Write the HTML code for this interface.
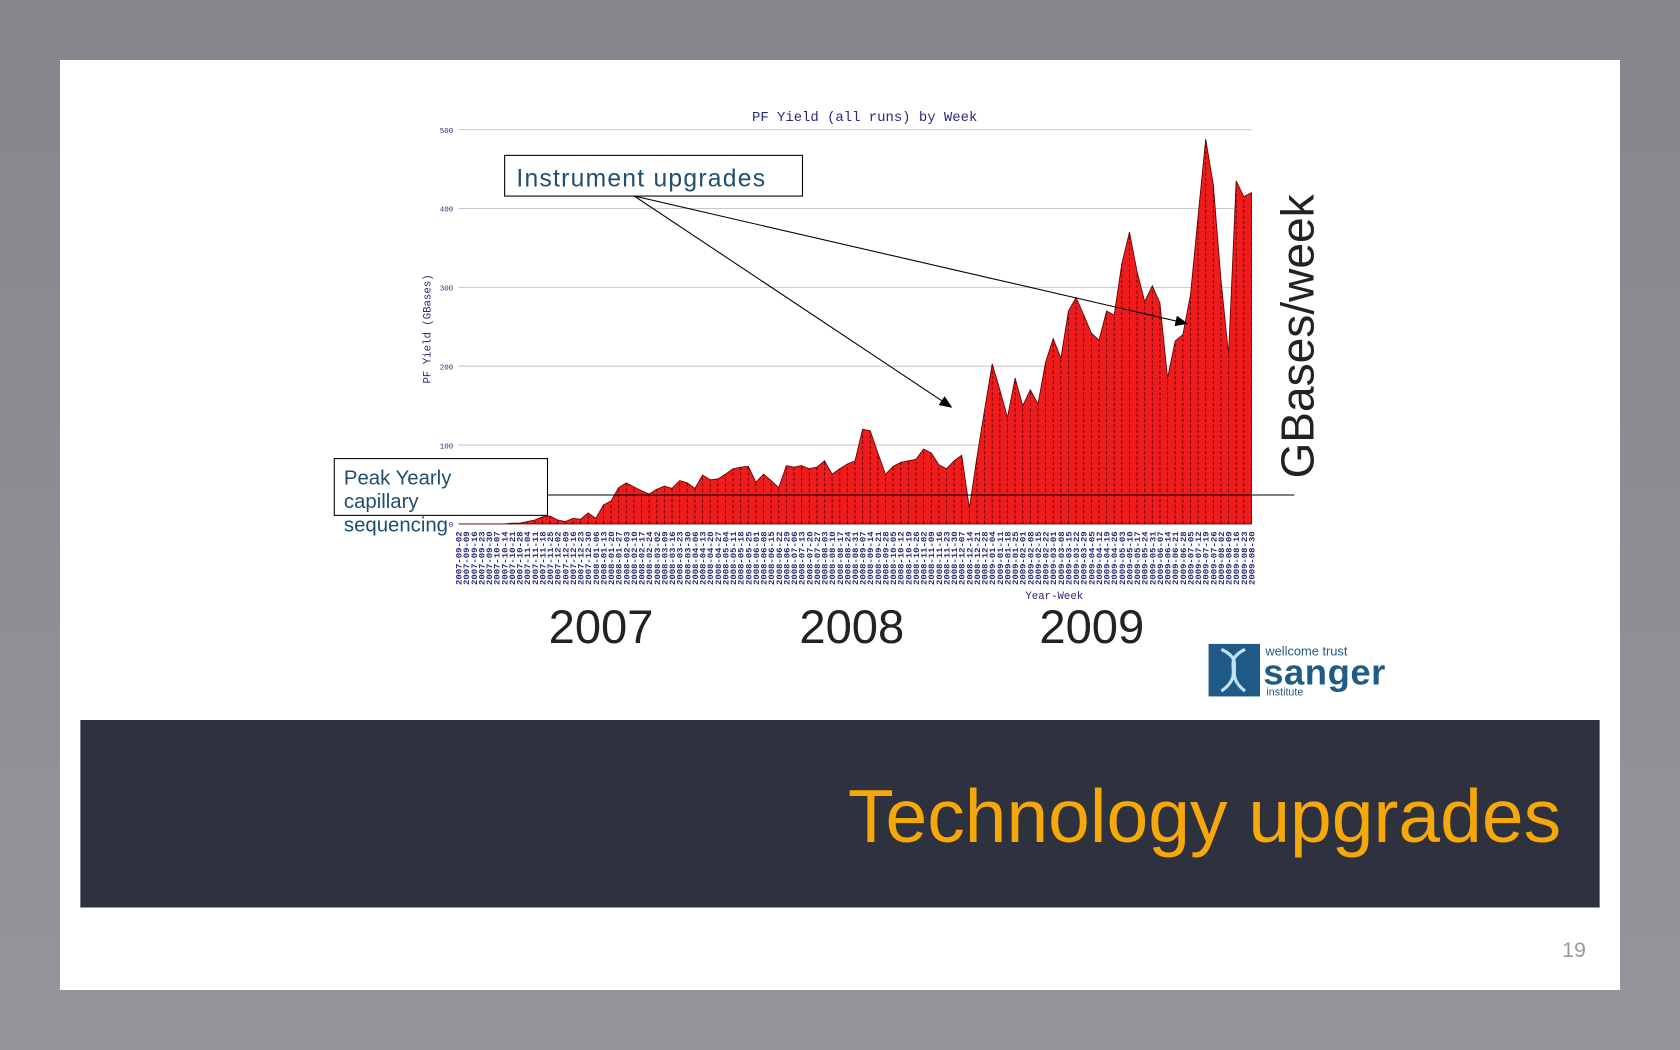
<!DOCTYPE html>
<html><head><meta charset="utf-8">
<style>
html,body{margin:0;padding:0;width:1680px;height:1050px;overflow:hidden;background:#88878d;}
#wrap{position:absolute;left:0;top:0;width:1568px;height:980px;transform:scale(1.0714286);transform-origin:0 0;background:linear-gradient(#86858b,#96959b);font-family:"Liberation Sans",sans-serif;}
#slide{position:absolute;left:56px;top:56px;width:1456px;height:868px;background:#fff;}
.abs{position:absolute;}
</style></head><body>
<div id="wrap">
<div id="slide"></div>
<svg class="abs" style="left:0;top:0" width="1568" height="980" id="chart">
<defs><marker id="ah" markerWidth="12" markerHeight="10" refX="11" refY="5" orient="auto" markerUnits="userSpaceOnUse"><path d="M0,0 L12,5 L0,10 z" fill="#000"/></marker></defs>
<text x="807" y="113" text-anchor="middle" font-family="Liberation Mono,monospace" font-size="13" fill="#2a2a7a">PF Yield (all runs) by Week</text>
<g id="grid"></g>
<g id="area"></g>
<g id="xlabels"></g>
<text transform="translate(402,307) rotate(-90)" text-anchor="middle" font-family="Liberation Mono,monospace" font-size="10" fill="#2a2a7a">PF Yield (GBases)</text>
<text x="984" y="559" text-anchor="middle" font-family="Liberation Mono,monospace" font-size="10" fill="#2a2a7a">Year-Week</text>
<line x1="592" y1="183" x2="888" y2="380" stroke="#000" stroke-width="1" marker-end="url(#ah)"/>
<line x1="592" y1="183" x2="1108" y2="302" stroke="#000" stroke-width="1" marker-end="url(#ah)"/>
<line x1="511" y1="462" x2="1208" y2="462" stroke="#000" stroke-width="1"/>
<rect x="471" y="145" width="278" height="38" fill="#fff" stroke="#000" stroke-width="1"/>
<text x="482" y="174" font-size="23" fill="#1f4e6e" textLength="232">Instrument upgrades</text>
<rect x="312" y="428" width="199" height="53" fill="#fff" stroke="#000" stroke-width="1"/>
<g font-size="19" fill="#1f4e6e">
<text x="321" y="452">Peak Yearly</text><text x="321" y="474">capillary</text><text x="321" y="496">sequencing</text></g>
<text transform="translate(1226,314) rotate(-90)" text-anchor="middle" font-size="43" fill="#222">GBases/week</text>
<g font-size="44" fill="#222" text-anchor="middle">
<text x="561" y="600">2007</text>
<text x="795" y="600">2008</text>
<text x="1019" y="600">2009</text></g>
<g>
<rect x="1128" y="601" width="48" height="49" fill="#1f5b86"/>
<path d="M1140,606 C1165,618 1140,628 1162,645 M1162,606 C1138,618 1164,628 1140,645" stroke="#bfe3f2" stroke-width="3" fill="none"/>
<text x="1181" y="612" font-size="12" fill="#1f5b86">wellcome trust</text>
<text x="1179" y="639" font-size="34" font-weight="bold" fill="#1f5b86" textLength="114">sanger</text>
<text x="1182" y="649" font-size="10" fill="#1f5b86">institute</text></g>
</svg>
<div class="abs" style="left:75px;top:672px;width:1418px;height:175px;background:#2e323e"></div>
<div class="abs" style="right:111px;top:722px;font-size:70px;color:#f6a70a;white-space:nowrap">Technology upgrades</div>
<div class="abs" style="left:1458px;top:876px;font-size:20px;color:#999">19</div>
</div>
<script>
const yTicks=[0,100,200,300,400,500];
const startDate='2007-09-02';
const values=[0,0,0,0,0,0,0,1,1,3,5,9,10,5,3,7,6,14,7,24,29,46,52,47,42,38,44,48,45,55,52,45,62,56,57,63,70,72,73,53,63,55,46,74,72,74,70,72,80,63,70,76,80,120,118,90,63,73,78,80,82,95,90,75,70,80,87,20,85,145,203,170,135,185,150,170,152,205,235,210,270,287,265,242,233,270,265,330,370,320,282,302,280,185,232,240,290,390,488,430,310,215,435,415,420];
const categories=[];
(function(){let d=new Date(startDate+'T00:00:00Z');for(let i=0;i<values.length;i++){categories.push(d.toISOString().slice(0,10));d=new Date(d.getTime()+7*864e5);}})();
const X0=428,X1=1168,Y0=489,Y1=121;
function xs(i){return X0+(X1-X0)*i/(values.length-1);}
function ys(v){return Y0-(Y0-Y1)*v/500;}
const NS='http://www.w3.org/2000/svg';
function mk(t,a,p){const e=document.createElementNS(NS,t);for(const k in a)e.setAttribute(k,a[k]);p.appendChild(e);return e;}
const grid=document.getElementById('grid');
yTicks.forEach(t=>{
 const l=mk('line',{x1:X0,x2:X1,y1:ys(t),y2:ys(t),stroke:'#c8c8c8','stroke-width':1},grid);
 
 
 const tx=mk('text',{x:X0-5,y:ys(t)+3,'text-anchor':'end','font-family':'Liberation Mono,monospace','font-size':7,fill:'#2a2a7a'},grid);
 tx.textContent=String(t);
 
 
});
const area=document.getElementById('area');
let d='M'+xs(0)+','+Y0;
values.forEach((v,i)=>{d+=' L'+xs(i)+','+ys(v);});
d+=' L'+xs(values.length-1)+','+Y0+' Z';
const p=mk('path',{d:d,fill:'#ee1c1c',stroke:'#600','stroke-width':0.8},area);


values.forEach((v,i)=>{
 if(v<2)return;
 const l=mk('line',{x1:xs(i),x2:xs(i),y1:Y0,y2:ys(v),stroke:'#5a0000','stroke-width':0.8,'stroke-dasharray':'3,2'},area);
 
 
});
const xl=document.getElementById('xlabels');
categories.forEach((c,i)=>{
 const t=mk('text',{transform:'translate('+(xs(i)+2.8)+',546) rotate(-90)','font-family':'Liberation Mono,monospace','font-size':7.6,'font-weight':'bold',fill:'#2a2a7a',textLength:50,lengthAdjust:'spacingAndGlyphs'},xl);
 t.textContent=c;
 
 
});
</script>
</body></html>
